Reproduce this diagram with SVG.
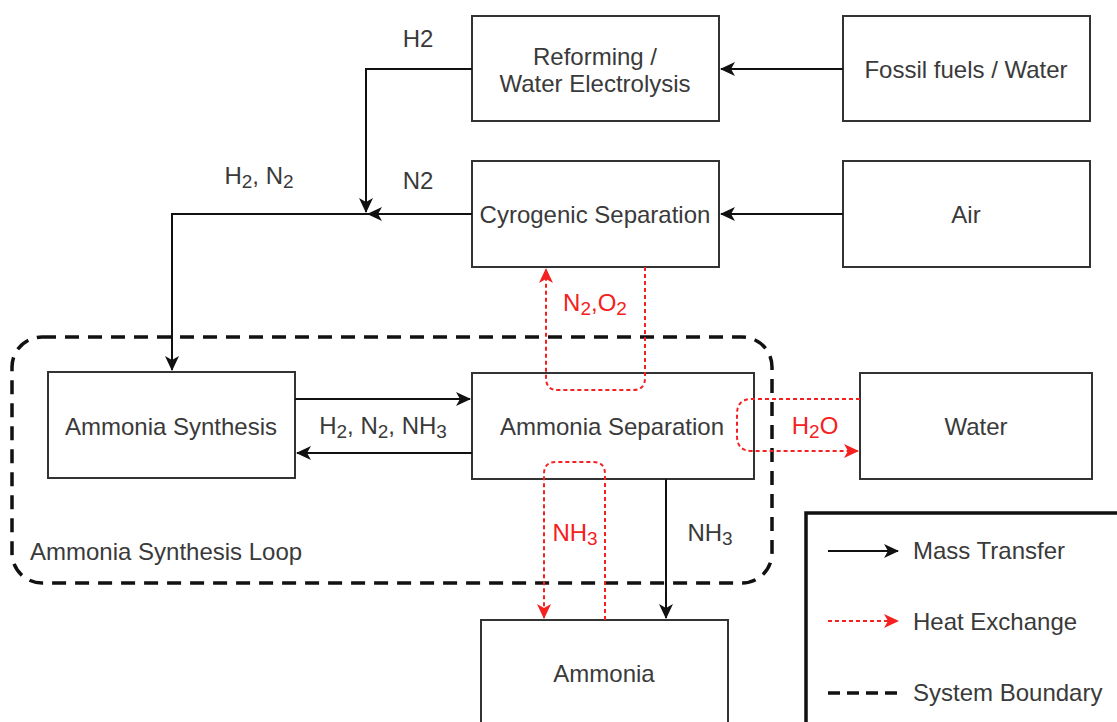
<svg xmlns="http://www.w3.org/2000/svg" width="1117" height="722" viewBox="0 0 1117 722">
<style>
.box{fill:#fff;stroke:#333;stroke-width:2}
.t{font-family:"Liberation Sans",Arial,sans-serif;font-size:24px;fill:#3a3a3a;text-anchor:middle;dominant-baseline:central}
.tl{text-anchor:start}
.red{fill:#f52020}
.m{stroke:#111;stroke-width:2;fill:none}
.h{stroke:#f52020;stroke-width:2;stroke-dasharray:4 3;fill:none}
.b{stroke:#111;stroke-width:3.5;stroke-dasharray:14 9;fill:none}
.sub{font-size:19px}
</style>
<defs>
<marker id="ab" markerUnits="userSpaceOnUse" markerWidth="16" markerHeight="14" refX="14" refY="7" orient="auto">
<path d="M0,0 L15,7 L0,14 L4,7 z" fill="#111"/>
</marker>
<marker id="ar" markerUnits="userSpaceOnUse" markerWidth="16" markerHeight="14" refX="14" refY="7" orient="auto">
<path d="M0,0 L15,7 L0,14 L4,7 z" fill="#f52020"/>
</marker>
</defs>

<g id="boundary">
<rect class="b" x="12" y="337" width="760" height="246" rx="30"/>
<text class="t tl" x="30" y="551">Ammonia Synthesis Loop</text>
</g>

<g id="reforming">
<rect class="box" x="472" y="16" width="247" height="105"/>
<text class="t" x="595" y="56">Reforming /</text>
<text class="t" x="595" y="83">Water Electrolysis</text>
</g>
<g id="fossil">
<rect class="box" x="843" y="16" width="247" height="105"/>
<text class="t" x="966" y="69">Fossil fuels / Water</text>
</g>
<g id="cryogenic">
<rect class="box" x="472" y="161" width="247" height="106"/>
<text class="t" x="595" y="214">Cyrogenic Separation</text>
</g>
<g id="air">
<rect class="box" x="843" y="161" width="247" height="106"/>
<text class="t" x="966" y="214">Air</text>
</g>
<g id="synthesis">
<rect class="box" x="48" y="372" width="247" height="106"/>
<text class="t" x="171" y="426">Ammonia Synthesis</text>
</g>
<g id="separation">
<rect class="box" x="472" y="373" width="282" height="106"/>
<text class="t" x="612" y="426">Ammonia Separation</text>
</g>
<g id="water">
<rect class="box" x="860" y="373" width="232" height="106"/>
<text class="t" x="976" y="426">Water</text>
</g>
<g id="ammonia">
<rect class="box" x="481" y="620" width="247" height="120"/>
<text class="t" x="604" y="673">Ammonia</text>
</g>

<g id="connectors">
<path class="m" d="M843,69 H721" marker-end="url(#ab)"/>
<path class="m" d="M843,214 H721" marker-end="url(#ab)"/>
<path class="m" d="M472,69 H366 V212" marker-end="url(#ab)"/>
<path class="m" d="M472,214 H368" marker-end="url(#ab)"/>
<path class="m" d="M368,214 H172 V370" marker-end="url(#ab)"/>
<path class="m" d="M295,399 H470" marker-end="url(#ab)"/>
<path class="m" d="M472,453 H297" marker-end="url(#ab)"/>
<path class="m" d="M666,479 V618" stroke-width="3" marker-end="url(#ab)"/>
<path class="h" d="M645,267 V378 Q645,390 633,390 H558 Q546,390 546,378 V269" marker-end="url(#ar)"/>
<path class="h" d="M860,399 H752 Q737,399 737,414 V436 Q737,451 752,451 H858" marker-end="url(#ar)"/>
<path class="h" d="M605,620 V474 Q605,462 593,462 H556 Q544,462 544,474 V618" marker-end="url(#ar)"/>
<text class="t" x="418" y="38">H2</text>
<text class="t" x="418" y="180">N2</text>
<text class="t" x="259" y="175">H<tspan class="sub" dy="6">2</tspan><tspan dy="-6">, N</tspan><tspan class="sub" dy="6">2</tspan></text>
<text class="t" x="383" y="425">H<tspan class="sub" dy="6">2</tspan><tspan dy="-6">, N</tspan><tspan class="sub" dy="6">2</tspan><tspan dy="-6">, NH</tspan><tspan class="sub" dy="6">3</tspan></text>
<text class="t red" x="595" y="302">N<tspan class="sub" dy="6">2</tspan><tspan dy="-6">,O</tspan><tspan class="sub" dy="6">2</tspan></text>
<text class="t red" x="815" y="425">H<tspan class="sub" dy="6">2</tspan><tspan dy="-6">O</tspan></text>
<text class="t red" x="575" y="532">NH<tspan class="sub" dy="6">3</tspan></text>
<text class="t" x="710" y="532">NH<tspan class="sub" dy="6">3</tspan></text>
</g>

<g id="legend">
<rect x="806" y="513" width="330" height="230" fill="#fff" stroke="#111" stroke-width="3.5"/>
<path class="m" d="M828,551 H898" marker-end="url(#ab)"/>
<text class="t tl" x="913" y="550">Mass Transfer</text>
<path class="h" d="M828,621 H898" marker-end="url(#ar)"/>
<text class="t tl" x="913" y="621">Heat Exchange</text>
<path d="M828,693 H898" stroke="#111" stroke-width="3.5" stroke-dasharray="12 7" fill="none"/>
<text class="t tl" x="913" y="692">System Boundary</text>
</g>
</svg>
